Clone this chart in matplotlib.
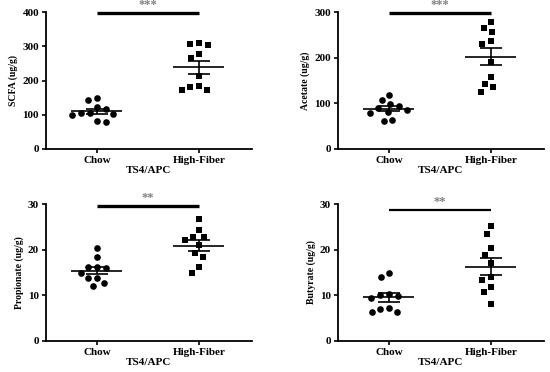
import matplotlib
matplotlib.use("Agg")
import matplotlib.pyplot as plt
import numpy as np

plt.rcParams['font.family'] = ['Liberation Serif', 'DejaVu Serif']
plt.rcParams['font.weight'] = 'bold'

groups = ['Chow', 'High-Fiber']
xlabel = 'TS4/APC'

scfa_chow = [150, 142, 123, 118, 105, 104, 103, 100, 81, 80]
scfa_fiber = [310, 307, 303, 276, 266, 214, 182, 184, 173, 171]

acetate_chow = [119, 108, 99, 94, 90, 85, 80, 79, 63, 62]
acetate_fiber = [278, 266, 257, 236, 231, 191, 157, 142, 135, 124]

propionate_chow = [20.4, 18.4, 16.2, 16.1, 15.9, 15.0, 13.8, 13.7, 12.7, 12.0]
propionate_fiber = [26.8, 24.3, 22.8, 22.7, 22.1, 21.0, 19.2, 18.4, 16.2, 15.0]

butyrate_chow = [14.9, 14.0, 10.2, 10.0, 9.9, 9.4, 7.2, 7.1, 6.3, 6.3]
butyrate_fiber = [25.2, 23.4, 20.4, 18.9, 17.0, 14.0, 13.4, 11.9, 10.7, 8.2]

panels = [
    ('SCFA (ug/g)', scfa_chow, scfa_fiber, 400, [0, 100, 200, 300, 400], 397, '***'),
    ('Acetate (ug/g)', acetate_chow, acetate_fiber, 300, [0, 100, 200, 300], 298, '***'),
    ('Propionate (ug/g)', propionate_chow, propionate_fiber, 30, [0, 10, 20, 30], 29.6, '**'),
    ('Butyrate (ug/g)', butyrate_chow, butyrate_fiber, 30, [0, 10, 20, 30], 28.7, '**'),
]

W, H = 550, 372
ax_w, ax_h = 206, 137
boxes = [(46, 12), (338, 12), (46, 204), (338, 204)]


def swarm(vals, ymax, d=9.0):
    # simple beeswarm: place each point as near the centre as it can go
    ys = np.asarray(vals, dtype=float) / ymax * ax_h
    xs = np.zeros(len(ys))
    placed = []
    cands = sorted(np.arange(-40, 40.5, 0.5), key=lambda c: (abs(c), c))
    for i in np.argsort(-ys):
        for c in cands:
            if all((c - px) ** 2 + (ys[i] - py) ** 2 >= d * d for px, py in placed):
                xs[i] = c
                placed.append((c, ys[i]))
                break
    return xs / (ax_w / 2.0)


fig = plt.figure(figsize=(W / 100, H / 100), dpi=100)

for k, (ylab, chow, fiber, ymax, yt, bar_y, stars) in enumerate(panels):
    left, top = boxes[k]
    ax = fig.add_axes([left / W, 1 - (top + ax_h) / H, ax_w / W, ax_h / H])
    for j, (vals, mk) in enumerate([(chow, 'o'), (fiber, 's')]):
        xs = j + swarm(vals, ymax)
        ax.scatter(xs, vals, marker=mk, s=23, color='black', zorder=3, linewidths=0)
        m = np.mean(vals)
        sem = np.std(vals, ddof=1) / np.sqrt(len(vals))
        ax.hlines(m, j - 0.25, j + 0.25, color='black', lw=1.2, zorder=4)
        ax.hlines([m - sem, m + sem], j - 0.11, j + 0.11, color='black', lw=1.2, zorder=4)
        ax.vlines(j, m - sem, m + sem, color='black', lw=1.2, zorder=4)
    lw = 1.6 if k == 3 else 2.4
    ax.plot([0, 1], [bar_y, bar_y], color='black', lw=lw, clip_on=False, solid_capstyle='butt')
    ax.text(0.5, bar_y + ymax * 0.012, stars, ha='center', va='bottom', fontsize=9,
            color='#808080', clip_on=False)
    ax.set_xlim(-0.5, 1.52)
    ax.set_ylim(0, ymax)
    ax.set_xticks([0, 1])
    ax.set_xticklabels(groups, fontsize=8, fontweight='bold')
    ax.set_yticks(yt)
    ax.set_yticklabels([str(v) for v in yt], fontsize=8, fontweight='bold')
    ax.set_ylabel(ylab, fontsize=7, fontweight='bold', labelpad=3)
    ax.set_xlabel(xlabel, fontsize=8, fontweight='bold', labelpad=1)
    ax.spines['top'].set_visible(False)
    ax.spines['right'].set_visible(False)
    for s in ('left', 'bottom'):
        ax.spines[s].set_linewidth(1.3)
    ax.tick_params(direction='out', length=3, width=1.2, pad=2)

fig.savefig('out.png', dpi=100)
